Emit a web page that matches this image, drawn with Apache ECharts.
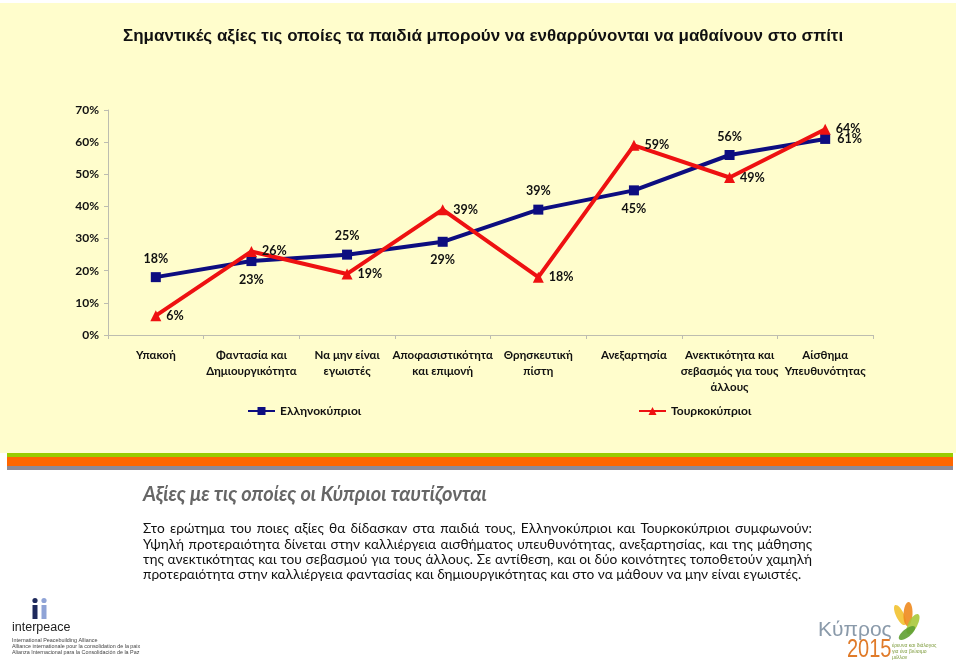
<!DOCTYPE html>
<html>
<head>
<meta charset="utf-8">
<script src="https://cdn.jsdelivr.net/npm/echarts@6/dist/echarts.min.js"></script>
<style>
html,body{margin:0;padding:0;background:#fff;}
#chart{width:960px;height:666px;}
</style>
</head>
<body>
<div id="chart"></div>
<script>
// ---- data ----
var categories = [
  'Υπακοή',
  'Φαντασία και\nΔημιουργικότητα',
  'Να μην είναι\nεγωιστές',
  'Αποφασιστικότητα\nκαι επιμονή',
  'Θρησκευτική\nπίστη',
  'Ανεξαρτησία',
  'Ανεκτικότητα και\nσεβασμός για τους\nάλλους',
  'Αίσθημα\nΥπευθυνότητας'
];
var greekCypriots = [18, 23, 25, 29, 39, 45, 56, 61];
var turkishCypriots = [6, 26, 19, 39, 18, 59, 49, 64];
var seriesNames = ['Ελληνοκύπριοι', 'Τουρκοκύπριοι'];
var yTicks = [0, 10, 20, 30, 40, 50, 60, 70];

var titleText = 'Σημαντικές αξίες τις οποίες τα παιδιά μπορούν να ενθαρρύνονται να μαθαίνουν στο σπίτι';
var headingText = 'Αξίες με τις οποίες οι Κύπριοι ταυτίζονται';
var bodyLines = [
  'Στο ερώτημα του ποιες αξίες θα δίδασκαν στα παιδιά τους, Ελληνοκύπριοι και Τουρκοκύπριοι συμφωνούν:',
  'Υψηλή προτεραιότητα δίνεται στην καλλιέργεια αισθήματος υπευθυνότητας, ανεξαρτησίας, και της μάθησης',
  'της ανεκτικότητας και του σεβασμού για τους άλλους. Σε αντίθεση, και οι δύο κοινότητες τοποθετούν χαμηλή',
  'προτεραιότητα στην καλλιέργεια φαντασίας και δημιουργικότητας και στο να μάθουν να μην είναι εγωιστές.'
];

// ---- styling (kept apart from data) ----
var blueLabelPos = ['top','bottom','top','bottom','top','bottom','top','right'];
var redLabelPos = ['right','right','right','right','right','right','right','right'];
var labelFont = 'Lato, "Noto Sans", sans-serif';
var bodyFont = '13.7px Lato, "Noto Sans", sans-serif';

function buildData(vals, pos) {
  return vals.map(function (v, i) {
    return { value: v, label: { position: pos[i] } };
  });
}

var chart = echarts.init(document.getElementById('chart'), null, { renderer: 'canvas' });

var graphics = [
  { type: 'rect', z: -10, silent: true, shape: { x: 0, y: 3, width: 956, height: 450 }, style: { fill: '#FFFDCC' } },
  { type: 'rect', z: -9, silent: true, shape: { x: 7, y: 453, width: 946, height: 4 }, style: { fill: '#99CC00' } },
  { type: 'rect', z: -9, silent: true, shape: { x: 7, y: 457, width: 946, height: 9 }, style: { fill: '#FF6600' } },
  { type: 'rect', z: -9, silent: true, shape: { x: 7, y: 466, width: 946, height: 4 }, style: { fill: '#8E8A96' } },
  { type: 'text', left: 123, top: 28, style: { text: titleText, font: 'bold 17px "Liberation Sans", Arial, sans-serif', fill: '#111' } },
  { type: 'text', left: 143, top: 485, style: { text: headingText, font: 'italic bold 20px ' + labelFont, fill: '#666666' } },
  // interpeace logo (approximation)
  { type: 'circle', shape: { cx: 35, cy: 600.5, r: 2.6 }, style: { fill: '#1F2A5C' } },
  { type: 'rect', shape: { x: 32.5, y: 605, width: 5, height: 14 }, style: { fill: '#1F2A5C' } },
  { type: 'circle', shape: { cx: 44, cy: 600.5, r: 2.6 }, style: { fill: '#8FA3D6' } },
  { type: 'rect', shape: { x: 41.5, y: 605, width: 5, height: 14 }, style: { fill: '#8FA3D6' } },
  { type: 'text', left: 12, top: 621, style: { text: 'interpeace', font: '12.5px "Liberation Sans", Arial, sans-serif', fill: '#222' } },
  { type: 'text', left: 12, top: 638, style: { text: 'International Peacebuilding Alliance', font: '5.4px "Liberation Sans", Arial, sans-serif', fill: '#444' } },
  { type: 'text', left: 12, top: 644, style: { text: 'Alliance internationale pour la consolidation de la paix', font: '5.4px "Liberation Sans", Arial, sans-serif', fill: '#444' } },
  { type: 'text', left: 12, top: 650, style: { text: 'Alianza Internacional para la Consolidación de la Paz', font: '5.4px "Liberation Sans", Arial, sans-serif', fill: '#444' } },
  // Κύπρος 2015 logo (approximation)
  { type: 'ellipse', rotation: 0.45, originX: 900, originY: 615, shape: { cx: 900, cy: 615, rx: 4, ry: 11 }, style: { fill: '#F2C230', opacity: 0.9 } },
  { type: 'ellipse', rotation: -0.05, originX: 908, originY: 614, shape: { cx: 908, cy: 614, rx: 4.5, ry: 12 }, style: { fill: '#EE8A1E', opacity: 0.9 } },
  { type: 'ellipse', rotation: -0.5, originX: 913, originY: 624, shape: { cx: 913, cy: 624, rx: 4.5, ry: 11 }, style: { fill: '#A8C83A', opacity: 0.9 } },
  { type: 'ellipse', rotation: -0.9, originX: 907, originY: 633, shape: { cx: 907, cy: 633, rx: 4, ry: 10 }, style: { fill: '#5FA032', opacity: 0.9 } },
  { type: 'text', left: 818, top: 620, style: { text: 'Κύπρος', font: '21px "Liberation Sans", sans-serif', fill: '#8A9AAA' } },
  { type: 'text', left: 847, top: 638, scaleX: 0.8, originX: 847, style: { text: '2015', font: '25px "Liberation Sans", sans-serif', fill: '#E07B2A' } },
  { type: 'text', left: 892, top: 643, style: { text: 'έρευνα και διάλογος\nγια ένα βιώσιμο\nμέλλον', font: '5px "Liberation Sans", sans-serif', fill: '#7C9A3A', lineHeight: 6 } }
];

// justified body text: each word placed along the line
(function () {
  var ctx = document.createElement('canvas').getContext('2d');
  ctx.font = bodyFont;
  var x0 = 143, fullW = 669;
  bodyLines.forEach(function (line, li) {
    var y = 522 + li * 15.3;
    var words = line.split(' ');
    var widths = words.map(function (w) { return ctx.measureText(w).width; });
    var sum = widths.reduce(function (a, b) { return a + b; }, 0);
    var spaceW = ctx.measureText(' ').width;
    var gap = spaceW;
    if (li < bodyLines.length - 1 && words.length > 1) {
      gap = (fullW - sum) / (words.length - 1);
    }
    var x = x0;
    words.forEach(function (w, wi) {
      graphics.push({ type: 'text', x: x, y: y, style: { text: w, font: bodyFont, fill: '#111', textVerticalAlign: 'top' } });
      x += widths[wi] + gap;
    });
  });
})();

var option = {
  backgroundColor: '#ffffff',
  animation: false,
  graphic: graphics,
  grid: { left: 108, right: 87, top: 110, bottom: 331, containLabel: false },
  legend: [
    {
      data: [seriesNames[0]], left: 242, top: 400, itemWidth: 27, itemHeight: 10,
      textStyle: { fontFamily: labelFont, fontWeight: 'bold', fontSize: 12, color: '#111' }
    },
    {
      data: [seriesNames[1]], left: 633, top: 400, itemWidth: 27, itemHeight: 10,
      textStyle: { fontFamily: labelFont, fontWeight: 'bold', fontSize: 12, color: '#111' }
    }
  ],
  xAxis: {
    type: 'category',
    data: categories,
    boundaryGap: true,
    axisLine: { lineStyle: { color: '#BDBDB0', width: 1 } },
    axisTick: { show: true, alignWithLabel: false, length: 4, lineStyle: { color: '#BDBDB0' } },
    axisLabel: {
      interval: 0, margin: 12, lineHeight: 16,
      fontFamily: labelFont, fontWeight: 'bold', fontSize: 11.5, color: '#111'
    },
    splitLine: { show: false }
  },
  yAxis: {
    type: 'value',
    min: yTicks[0], max: yTicks[yTicks.length - 1], interval: 10,
    axisLine: { show: true, lineStyle: { color: '#BDBDB0' } },
    axisTick: { show: true, length: 4, lineStyle: { color: '#BDBDB0' } },
    axisLabel: {
      margin: 9, formatter: '{value}%',
      fontFamily: labelFont, fontWeight: 'bold', fontSize: 12, color: '#111'
    },
    splitLine: { show: false }
  },
  series: [
    {
      name: seriesNames[0], type: 'line',
      data: buildData(greekCypriots, blueLabelPos),
      symbol: 'rect', symbolSize: 10,
      lineStyle: { color: '#0D0D80', width: 4 },
      itemStyle: { color: '#0D0D80' },
      label: { show: true, formatter: '{c}%', fontFamily: labelFont, fontWeight: 'bold', fontSize: 12.5, color: '#111', distance: 7 },
      z: 3
    },
    {
      name: seriesNames[1], type: 'line',
      data: buildData(turkishCypriots, redLabelPos),
      symbol: 'triangle', symbolSize: 11,
      lineStyle: { color: '#EE1111', width: 4 },
      itemStyle: { color: '#EE1111' },
      label: { show: true, formatter: '{c}%', fontFamily: labelFont, fontWeight: 'bold', fontSize: 12.5, color: '#111', distance: 5 },
      z: 4
    }
  ]
};
chart.setOption(option);
</script>
</body>
</html>
